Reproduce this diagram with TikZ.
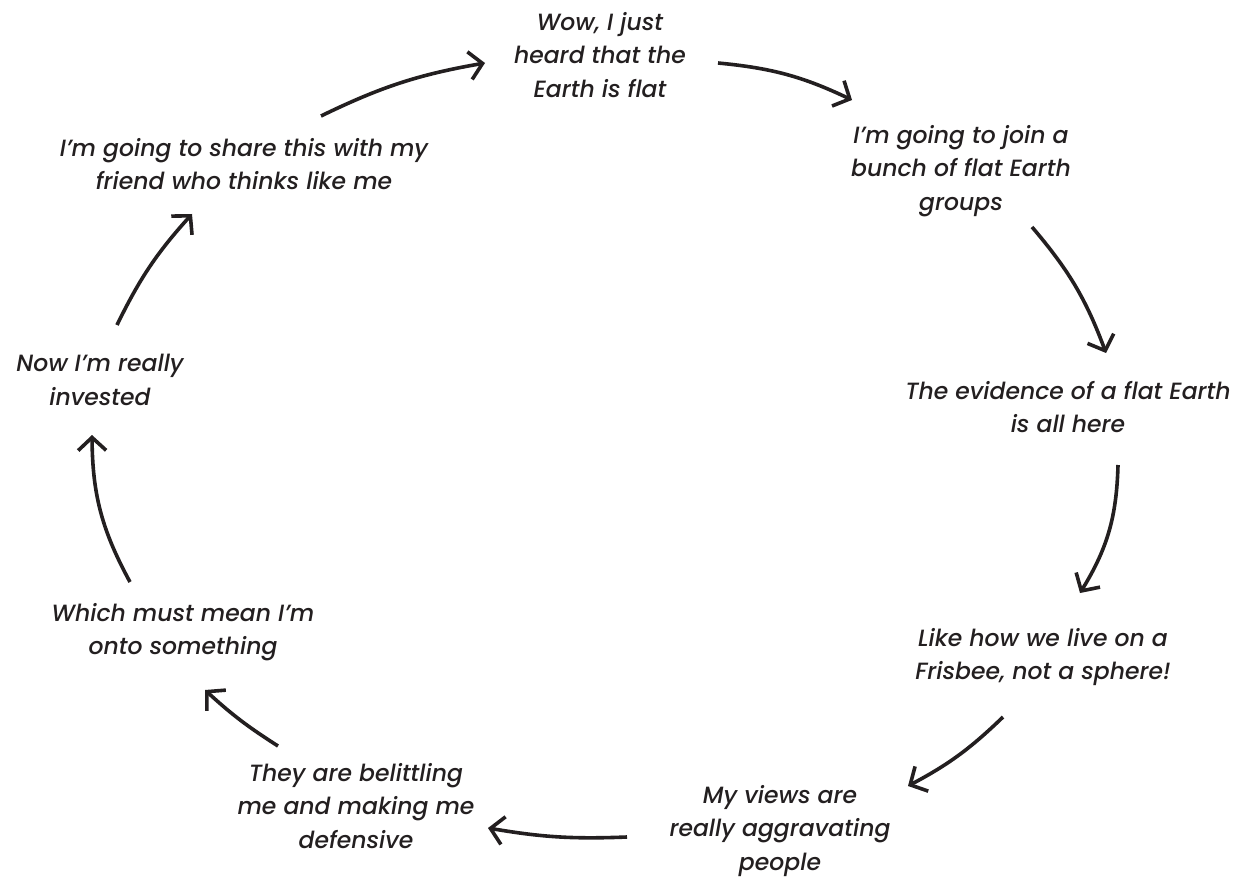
\documentclass[tikz,border=0pt]{standalone}
\usepackage{fontspec}
\setmainfont{Poppins}[ItalicFont=Poppins Medium Italic]
\usetikzlibrary{arrows.meta}
\definecolor{ink}{HTML}{231F20}
\begin{document}
\begin{tikzpicture}[x=1pt,y=-1pt,
  step label/.style={text=ink, align=center, inner sep=0pt,
    font=\fontsize{23.5}{33.5}\selectfont\itshape},
  flow/.style={draw=ink, line width=3.6pt,
    -{Straight Barb[length=13pt,width=28pt,line width=3.6pt]}}]
\useasboundingbox (0,0) rectangle (1241,877);

% the statements around the cycle
\node[step label] (wow)    at (600,55)  {Wow, I just\\heard that the\\Earth is flat};
\node[step label] (join)   at (961,171) {I’m going to join a\\bunch of flat Earth\\groups};
\node[step label] (proof)  at (1068,407) {The evidence of a flat Earth\\is all here};
\node[step label] (frisbee) at (1043,657) {Like how we live on a\\Frisbee, not a sphere!};
\node[step label] (views)  at (780,831) {My views are\\really aggravating\\people};
\node[step label] (belit)  at (356,806) {They are belittling\\me and making me\\defensive};
\node[step label] (onto)   at (183,632) {Which must mean I’m\\onto something};
\node[step label] (invest) at (100,380) {Now I’m really\\invested};
\node[step label] (share)  at (244,164) {I’m going to share this with my\\friend who thinks like me};

% arrow end points
\coordinate (s1) at (718,63);   \coordinate (e1) at (852,100);
\coordinate (s2) at (1032,227); \coordinate (e2) at (1106,353);
\coordinate (s3) at (1118,465); \coordinate (e3) at (1080,593);
\coordinate (s4) at (1003,717); \coordinate (e4) at (908,786);
\coordinate (s5) at (627,837);  \coordinate (e5) at (488,828);
\coordinate (s6) at (278,746);  \coordinate (e6) at (205,690);
\coordinate (s7) at (130,582);  \coordinate (e7) at (92,435);
\coordinate (s8) at (117,325);  \coordinate (e8) at (192,214);
\coordinate (s9) at (321,116);  \coordinate (e9) at (485,63);

\draw[flow] (s1) to[bend left=10] (e1);
\draw[flow] (s2) to[bend left=10] (e2);
\draw[flow] (s3) to[bend left=15] (e3);
\draw[flow] (s4) to[bend left=8]  (e4);
\draw[flow] (s5) to[bend left=6]  (e5);
\draw[flow] (s6) to[bend left=5]  (e6);
\draw[flow] (s7) to[bend left=14] (e7);
\draw[flow] (s8) to[bend left=8]  (e8);
\draw[flow] (s9) to[bend left=8]  (e9);
\end{tikzpicture}
\end{document}
